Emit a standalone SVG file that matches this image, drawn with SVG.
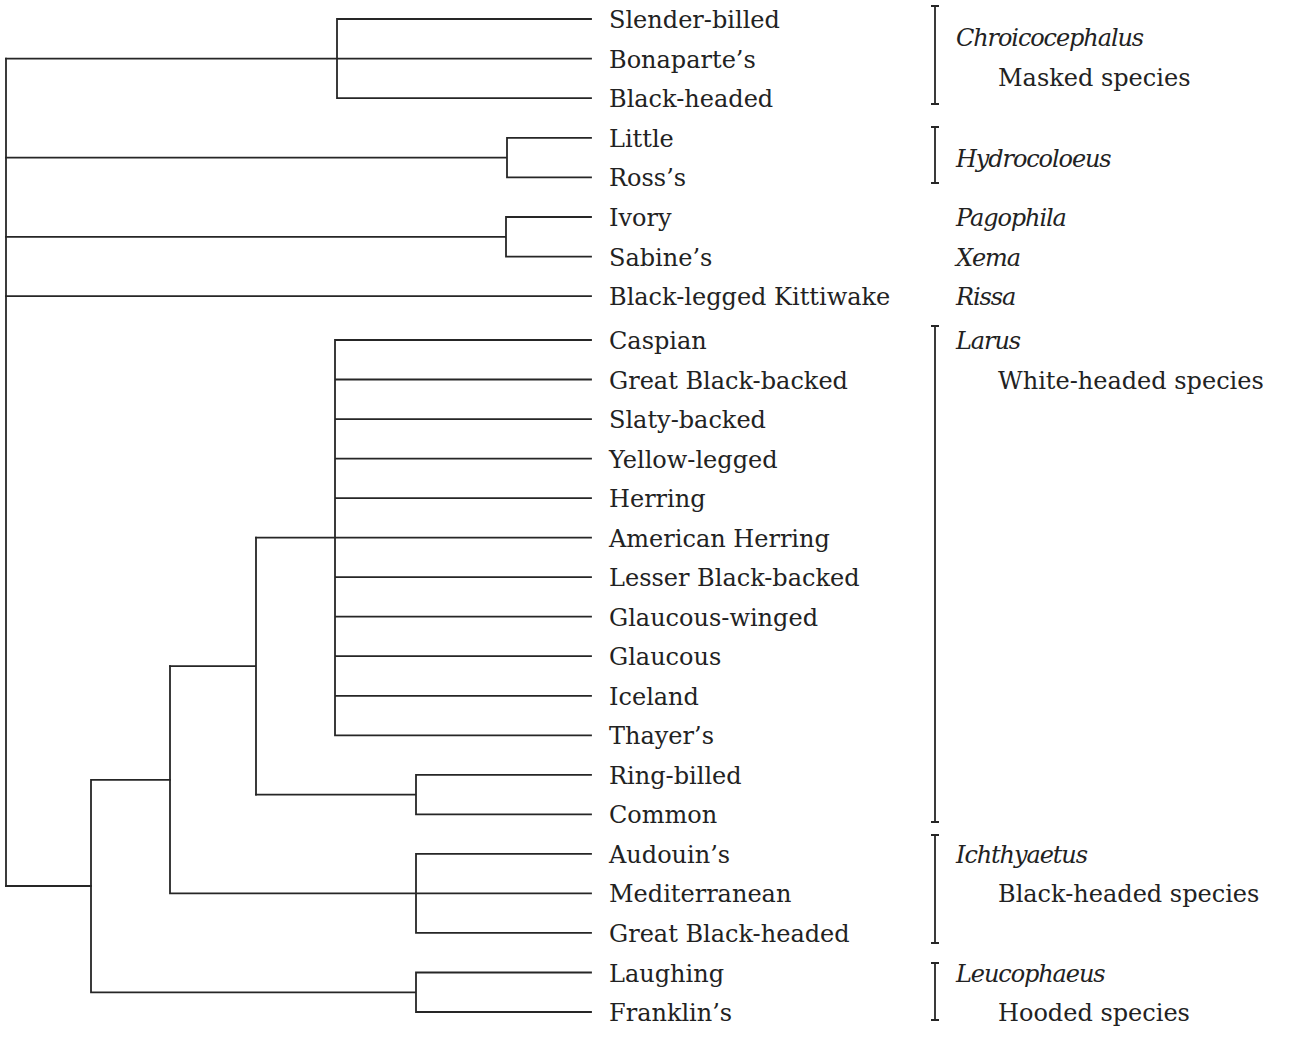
<svg xmlns="http://www.w3.org/2000/svg" width="1290" height="1045" viewBox="0 0 1290 1045">
<style>
.e{stroke:#262626;stroke-width:1.8;fill:none;stroke-linecap:square}
.b{stroke:#262626;stroke-width:1.8;fill:none}
text{font-family:"DejaVu Serif","Liberation Serif",serif;font-size:24px;fill:#222}
.g{font-style:italic;letter-spacing:-1.1px}
</style>
<rect width="1290" height="1045" fill="#fff"/>
<g id="connectors">
<path class="e" d="M6 58.6V886"/>
<path class="e" d="M6 58.6H591M337 19V98.2M337 19H591M337 98.2H591"/>
<path class="e" d="M6 157.6H507M507 137.8V177.4M507 137.8H591M507 177.4H591"/>
<path class="e" d="M6 236.8H506M506 217V256.6M506 217H591M506 256.6H591"/>
<path class="e" d="M6 296.2H591"/>
<path class="e" d="M335 340V735.3M335 340H591M335 379.5H591M335 419.1H591M335 458.6H591M335 498.1H591M256 537.7H591M335 577.2H591M335 616.7H591M335 656.2H591M335 695.8H591M335 735.3H591"/>
<path class="e" d="M256 794.6H416M416 774.8V814.4M416 774.8H591M416 814.4H591"/>
<path class="e" d="M256 537.7V794.6M170 666.2H256"/>
<path class="e" d="M170 666.2V893.4M170 893.4H591M416 853.9V932.9M416 853.9H591M416 932.9H591"/>
<path class="e" d="M91 779.8H170M91 779.8V992.3M91 992.3H416M416 972.5V1012M416 972.5H591M416 1012H591"/>
<path class="e" d="M6 886H91"/>
</g>
<g id="brackets">
<path class="b" d="M935 6V104M931 6H939M931 104H939"/>
<path class="b" d="M935 127V183M931 127H939M931 183H939"/>
<path class="b" d="M935 326V822M931 326H939M931 822H939"/>
<path class="b" d="M935 835V943M931 835H939M931 943H939"/>
<path class="b" d="M935 963V1020M931 963H939M931 1020H939"/>
</g>
<g id="leaves">
<text x="609" y="28">Slender-billed</text>
<text x="609" y="67.6">Bonaparte’s</text>
<text x="609" y="107.2">Black-headed</text>
<text x="609" y="146.8">Little</text>
<text x="609" y="186.4">Ross’s</text>
<text x="609" y="226">Ivory</text>
<text x="609" y="265.6">Sabine’s</text>
<text x="609" y="305.2">Black-legged Kittiwake</text>
<text x="609" y="349">Caspian</text>
<text x="609" y="388.5">Great Black-backed</text>
<text x="609" y="428.1">Slaty-backed</text>
<text x="609" y="467.6">Yellow-legged</text>
<text x="609" y="507.1">Herring</text>
<text x="609" y="546.7">American Herring</text>
<text x="609" y="586.2">Lesser Black-backed</text>
<text x="609" y="625.7">Glaucous-winged</text>
<text x="609" y="665.2">Glaucous</text>
<text x="609" y="704.8">Iceland</text>
<text x="609" y="744.3">Thayer’s</text>
<text x="609" y="783.8">Ring-billed</text>
<text x="609" y="823.4">Common</text>
<text x="609" y="862.9">Audouin’s</text>
<text x="609" y="902.4">Mediterranean</text>
<text x="609" y="941.9">Great Black-headed</text>
<text x="609" y="981.5">Laughing</text>
<text x="609" y="1021">Franklin’s</text>
</g>
<g id="groups">
<text class="g" x="956" y="46">Chroicocephalus</text>
<text x="998" y="86">Masked species</text>
<text class="g" x="956" y="166.6">Hydrocoloeus</text>
<text class="g" x="956" y="226">Pagophila</text>
<text class="g" x="956" y="265.6">Xema</text>
<text class="g" x="956" y="305.2">Rissa</text>
<text class="g" x="956" y="349">Larus</text>
<text x="998" y="388.5">White-headed species</text>
<text class="g" x="956" y="862.9">Ichthyaetus</text>
<text x="998" y="902.4">Black-headed species</text>
<text class="g" x="956" y="981.5">Leucophaeus</text>
<text x="998" y="1021">Hooded species</text>
</g>
</svg>
